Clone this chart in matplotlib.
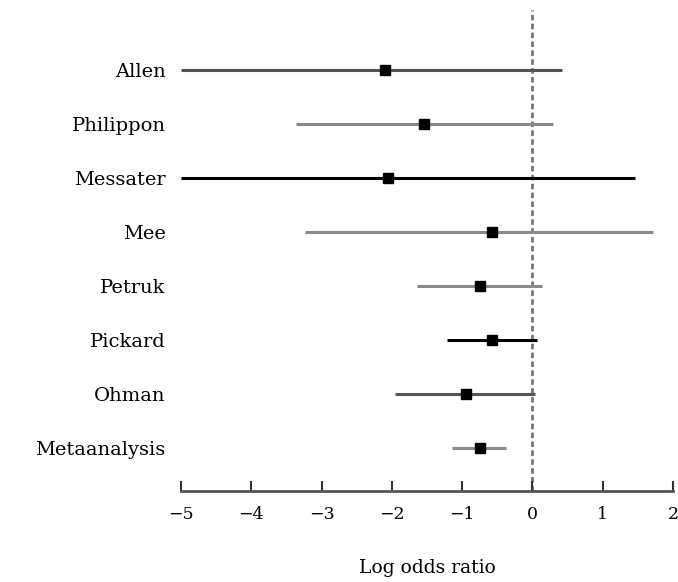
import matplotlib.pyplot as plt

# study estimates (log odds ratio) with lower / upper limits
studies = ["Allen", "Philippon", "Messater", "Mee", "Petruk", "Pickard", "Ohman", "Metaanalysis"]
estimate = [-2.10, -1.54, -2.05, -0.58, -0.74, -0.57, -0.94, -0.75]
lower = [-5.0, -3.36, -5.0, -3.23, -1.64, -1.21, -1.96, -1.15]
upper = [0.42, 0.29, 1.46, 1.71, 0.13, 0.07, 0.03, -0.37]
line_colors = ["#555555", "#8a8a8a", "#000000", "#8a8a8a", "#8a8a8a", "#000000", "#555555", "#8a8a8a"]
xticks = [-5, -4, -3, -2, -1, 0, 1, 2]

plt.rcParams['font.family'] = ['DejaVu Serif']

fig = plt.figure(figsize=(6.78, 5.82), dpi=100)
ax = fig.add_axes([0.267, 0.1564, 0.7256, 0.8266])

ypos = list(range(len(studies), 0, -1))
for y, est, lo, hi, c in zip(ypos, estimate, lower, upper, line_colors):
    ax.plot([lo, hi], [y, y], color=c, lw=2.2, solid_capstyle='butt', zorder=2)
    ax.plot(est, y, marker='s', color='black', markersize=7.5, zorder=3)

ax.axvline(0, color='#777777', lw=2, ls=(0, (2, 1.2)), zorder=1)

ax.set_xlim(-5, 2)
ax.set_ylim(0.204, 9.11)
ax.set_yticks(ypos)
ax.set_yticklabels(studies, fontsize=14)
ax.tick_params(axis='y', length=0, pad=11)
ax.set_xticks(xticks)
ax.set_xticklabels(["\u2212%d" % abs(t) if t < 0 else str(t) for t in xticks], fontsize=12.5)
ax.tick_params(axis='x', direction='in', length=7, width=1.5, color='#333333', pad=11)

for side in ['top', 'right', 'left']:
    ax.spines[side].set_visible(False)
ax.spines['bottom'].set_color('#555555')
ax.spines['bottom'].set_linewidth(2)

ax.set_xlabel("Log odds ratio", fontsize=13.5, labelpad=26)

fig.savefig("out.png", dpi=100)
